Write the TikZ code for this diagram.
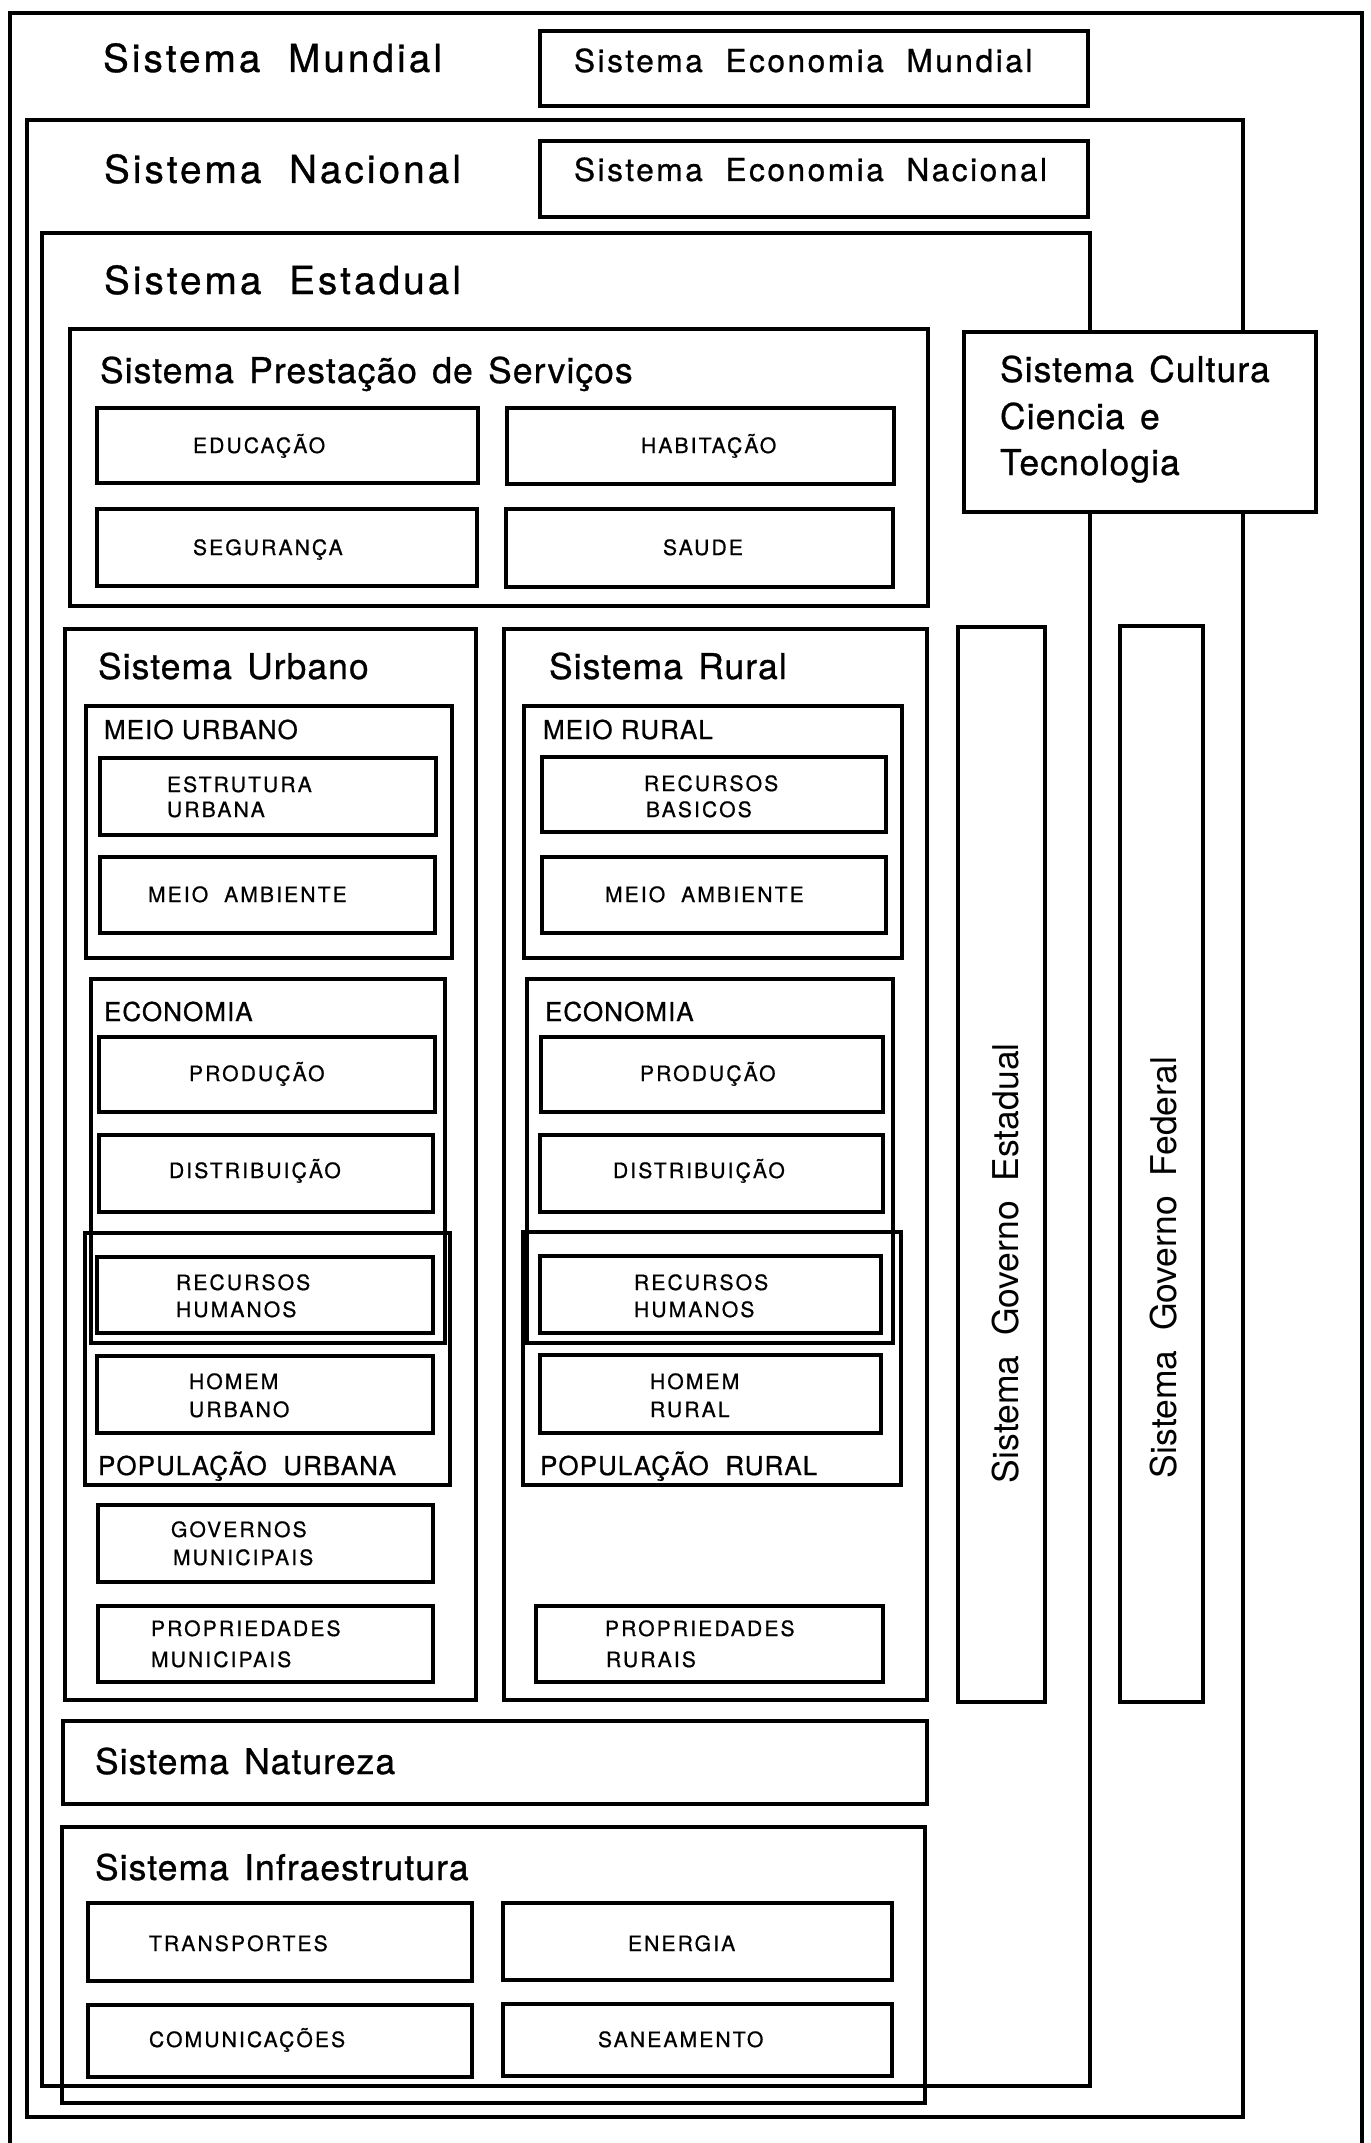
\documentclass[tikz,border=0pt]{standalone}
\usepackage{fontspec}
\usepackage{tikz}
\newfontfamily\letterbig[LetterSpace=8,WordSpace=2.8,FakeBold=0.8]{TeX Gyre Heros}
\newfontfamily\lettereco[LetterSpace=8,WordSpace=2.0,FakeBold=0.8]{TeX Gyre Heros}
\newfontfamily\lettermid[LetterSpace=3,WordSpace=1.4,FakeBold=0.8]{TeX Gyre Heros}
\newfontfamily\lettercaps[LetterSpace=4,FakeBold=0.8]{TeX Gyre Heros}
\newfontfamily\lettersmall[LetterSpace=10,FakeBold=0.8]{TeX Gyre Heros}
\newfontfamily\letterwide{TeX Gyre Heros}
\newcommand{\unitsize}{0.1mm}

\begin{document}
\begin{tikzpicture}[x=\unitsize, y=-\unitsize]
\useasboundingbox (0,0) rectangle (1371,2143);
\tikzstyle{box}=[line width=0.9pt]
\tikzstyle{outer}=[line width=1.2pt]
\tikzstyle{every node}=[inner sep=0pt,
			outer sep=0pt,
			anchor=base west
			]
\tikzstyle{bigtext}=[font=\letterbig\fontsize{11}{13}\selectfont]
\tikzstyle{ecotext}=[font=\lettereco\fontsize{9}{11}\selectfont]
\tikzstyle{subtext}=[font=\lettermid\fontsize{10.1}{12}\selectfont]
\tikzstyle{captext}=[font=\lettercaps\fontsize{7.4}{9}\selectfont]
\tikzstyle{smalltext}=[font=\lettersmall\fontsize{6}{7}\selectfont]
\tikzstyle{vertext}=[font=\letterwide\fontsize{10.1}{12}\selectfont, rotate=90, anchor=west]

% nested systems
\draw[outer] (10,2143) -- (10,13) -- (1362,13) -- (1362,2143);

\draw[outer] (27,120) rectangle (1243,2117);

\draw[outer] (42,233) rectangle (1090,2086);

\draw[box] (540,31) rectangle (1088,106);

\draw[box] (540,141) rectangle (1088,217);

\draw[box, fill=white] (964,332) rectangle (1316,512);

% prestacao de servicos
\draw[box] (70,329) rectangle (928,606);

\draw[box] (97,408) rectangle (478,483);

\draw[box] (507,408) rectangle (894,484);

\draw[box] (97,509) rectangle (477,586);

\draw[box] (506,509) rectangle (893,587);

% urbano
\draw[box] (65,629) rectangle (476,1700);

\draw[box] (86,706) rectangle (452,958);

\draw[box] (100,758) rectangle (436,835);

\draw[box] (100,857) rectangle (435,933);

\draw[box] (91,979) rectangle (445,1343);

\draw[box] (99,1037) rectangle (435,1112);

\draw[box] (99,1135) rectangle (433,1212);

\draw[box] (85,1233) rectangle (450,1485);

\draw[box] (97,1257) rectangle (433,1333);

\draw[box] (97,1356) rectangle (433,1433);

\draw[box] (98,1505) rectangle (433,1582);

\draw[box] (98,1606) rectangle (433,1682);

% rural
\draw[box] (504,629) rectangle (927,1700);

\draw[box] (524,706) rectangle (902,958);

\draw[box] (542,757) rectangle (886,832);

\draw[box] (542,857) rectangle (886,933);

\draw[box] (527,979) rectangle (893,1343);

\draw[box] (541,1037) rectangle (883,1112);

\draw[box] (540,1135) rectangle (883,1212);

\draw[box] (523,1232) rectangle (901,1485);

\draw[box] (540,1256) rectangle (881,1333);

\draw[box] (540,1355) rectangle (881,1433);

\draw[box] (536,1606) rectangle (883,1682);

% governo
\draw[box] (958,627) rectangle (1045,1702);

\draw[box] (1120,626) rectangle (1203,1702);

% natureza, infraestrutura
\draw[box] (63,1721) rectangle (927,1804);

\draw[box] (62,1827) rectangle (925,2103);

\draw[box] (88,1903) rectangle (472,1981);

\draw[box] (503,1903) rectangle (892,1980);

\draw[box] (88,2005) rectangle (472,2077);

\draw[box] (503,2004) rectangle (892,2076);


\node[bigtext] (mundial) at (103,72) {Sistema Mundial};

\node[bigtext] (nacional) at (104,183) {Sistema Nacional};

\node[bigtext] (estadual) at (104,294) {Sistema Estadual};

\node[ecotext] (ecomundial) at (574,72) {Sistema Economia Mundial};

\node[ecotext] (econacional) at (574,181) {Sistema Economia Nacional};

\node[subtext] (servicos) at (100,383) {Sistema Prestação de Serviços};

\node[subtext] (cultura) at (1000,382) {Sistema Cultura};

\node[subtext] (ciencia) at (1000,429) {Ciencia e};

\node[subtext] (tecnologia) at (1000,475) {Tecnologia};

\node[smalltext] (educacao) at (193,453) {EDUCAÇÃO};

\node[smalltext] (habitacao) at (641,453) {HABITAÇÃO};

\node[smalltext] (seguranca) at (193,555) {SEGURANÇA};

\node[smalltext] (saude) at (663,555) {SAUDE};

\node[subtext] (urbano) at (98,679) {Sistema Urbano};

\node[subtext] (rural) at (549,679) {Sistema Rural};

\node[captext] (meiourb) at (104,739) {MEIO URBANO};

\node[captext] (meiorur) at (543,739) {MEIO RURAL};

\node[smalltext] (estrutura) at (167,792) {ESTRUTURA};

\node[smalltext] (estrutura2) at (167,817) {URBANA};

\node[smalltext] (basicos) at (644,791) {RECURSOS};

\node[smalltext] (basicos2) at (646,817) {BASICOS};

\node[smalltext] (ambienteurb) at (148,902) {MEIO\ \ AMBIENTE};

\node[smalltext] (ambienterur) at (605,902) {MEIO\ \ AMBIENTE};

\node[captext] (economiaurb) at (104,1021) {ECONOMIA};

\node[captext] (economiarur) at (545,1021) {ECONOMIA};

\node[smalltext] (producaourb) at (189,1081) {PRODUÇÃO};

\node[smalltext] (producaorur) at (640,1081) {PRODUÇÃO};

\node[smalltext] (distribuicaourb) at (169,1178) {DISTRIBUIÇÃO};

\node[smalltext] (distribuicaorur) at (613,1178) {DISTRIBUIÇÃO};

\node[smalltext] (humanosurb) at (176,1290) {RECURSOS};

\node[smalltext] (humanosurb2) at (176,1317) {HUMANOS};

\node[smalltext] (humanosrur) at (634,1290) {RECURSOS};

\node[smalltext] (humanosrur2) at (634,1317) {HUMANOS};

\node[smalltext] (homemurb) at (189,1389) {HOMEM};

\node[smalltext] (homemurb2) at (189,1417) {URBANO};

\node[smalltext] (homemrur) at (650,1389) {HOMEM};

\node[smalltext] (homemrur2) at (650,1417) {RURAL};

\node[captext] (populacaourb) at (98,1475) {POPULAÇÃO\ \ URBANA};

\node[captext] (populacaorur) at (540,1475) {POPULAÇÃO\ \ RURAL};

\node[smalltext] (governos) at (171,1537) {GOVERNOS};

\node[smalltext] (governos2) at (173,1565) {MUNICIPAIS};

\node[smalltext] (propmun) at (151,1636) {PROPRIEDADES};

\node[smalltext] (propmun2) at (151,1667) {MUNICIPAIS};

\node[smalltext] (proprur) at (605,1636) {PROPRIEDADES};

\node[smalltext] (proprur2) at (606,1667) {RURAIS};

\node[vertext] (govestadual) at (1006,1483) {Sistema\ \ Governo\ \ Estadual};

\node[vertext] (govfederal) at (1164,1478) {Sistema\ \ Governo\ \ Federal};

\node[subtext] (natureza) at (95,1774) {Sistema Natureza};

\node[subtext] (infra) at (95,1880) {Sistema Infraestrutura};

\node[smalltext] (transportes) at (149,1951) {TRANSPORTES};

\node[smalltext] (energia) at (628,1951) {ENERGIA};

\node[smalltext] (comunicacoes) at (149,2047) {COMUNICAÇÕES};

\node[smalltext] (saneamento) at (598,2047) {SANEAMENTO};

\end{tikzpicture}
\end{document}
